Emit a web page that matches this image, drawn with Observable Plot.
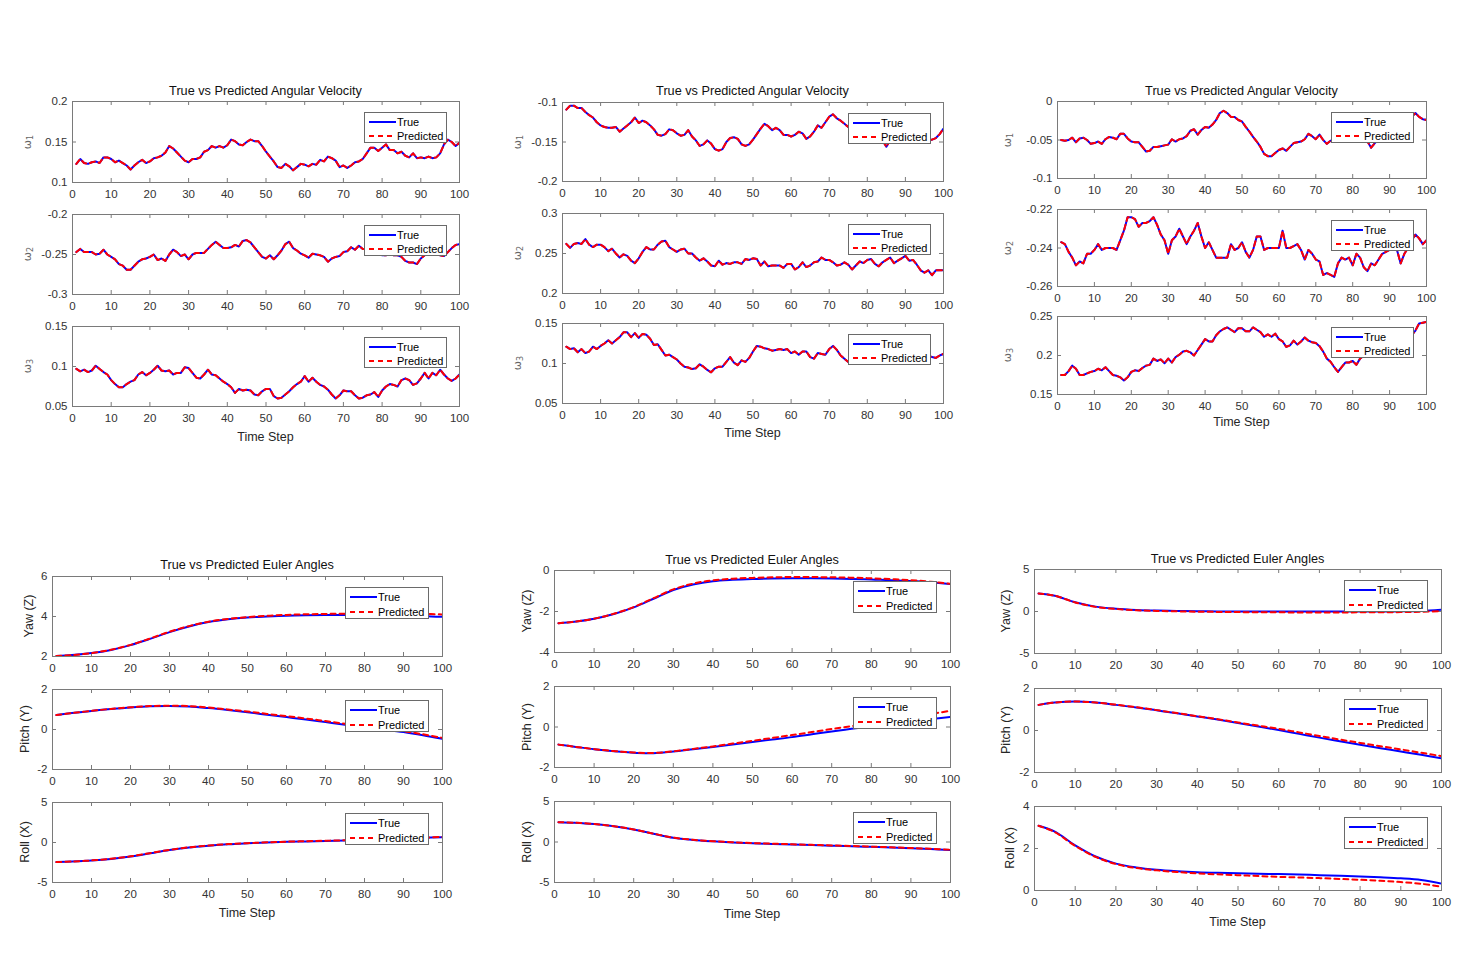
<!DOCTYPE html>
<html><head><meta charset="utf-8">
<script src="https://cdn.jsdelivr.net/npm/d3@7"></script>
<script src="https://cdn.jsdelivr.net/npm/@observablehq/plot@0.6"></script>
<style>
body{margin:0;background:#fff;}
#fig{position:relative;width:1464px;height:976px;overflow:hidden;background:#fff;font-family:"Liberation Sans",Arial,Helvetica,sans-serif;color:#262626;}
.abs{position:absolute;white-space:nowrap;}
.ctr{transform:translate(-50%,-50%);}
.rot{transform:translate(-50%,-50%) rotate(-90deg);}
.leg{position:absolute;box-sizing:border-box;border:1px solid #6a6a6a;background:#fff;font-size:11px;color:#000;}
</style></head><body><div id="fig"></div>
<script>
// ---------- data ----------
const timeSteps = d3.range(1, 101);
const eulerSteps = [1,5,10,15,20,25,30,35,40,45,50,55,60,65,70,75,80,85,90,95,100];
const xTicks = [0,10,20,30,40,50,60,70,80,90,100];

// Run 1 angular velocity (true; predictions coincide)
const run1W1 = [0.123,0.129,0.124,0.123,0.125,0.126,0.124,0.131,0.131,0.129,
 0.125,0.127,0.124,0.121,0.116,0.121,0.125,0.128,0.124,0.126,
 0.130,0.131,0.133,0.137,0.145,0.142,0.137,0.132,0.127,0.125,
 0.129,0.129,0.131,0.138,0.140,0.145,0.143,0.145,0.143,0.146,
 0.153,0.151,0.147,0.146,0.150,0.153,0.151,0.151,0.145,0.138,
 0.132,0.126,0.119,0.118,0.123,0.120,0.115,0.119,0.123,0.122,
 0.120,0.123,0.122,0.128,0.126,0.132,0.130,0.127,0.119,0.121,
 0.118,0.121,0.125,0.126,0.129,0.136,0.143,0.143,0.139,0.143,
 0.147,0.140,0.140,0.136,0.138,0.133,0.131,0.136,0.130,0.131,
 0.130,0.132,0.130,0.131,0.136,0.147,0.153,0.150,0.145,0.149];
const run1W2 = [-0.247,-0.243,-0.247,-0.247,-0.247,-0.250,-0.249,-0.244,-0.250,-0.253,
 -0.256,-0.262,-0.264,-0.269,-0.269,-0.264,-0.259,-0.256,-0.255,-0.253,
 -0.250,-0.257,-0.255,-0.258,-0.250,-0.244,-0.247,-0.252,-0.250,-0.256,
 -0.250,-0.248,-0.248,-0.248,-0.243,-0.238,-0.234,-0.238,-0.242,-0.242,
 -0.241,-0.238,-0.240,-0.233,-0.232,-0.235,-0.241,-0.247,-0.253,-0.255,
 -0.251,-0.256,-0.251,-0.245,-0.237,-0.234,-0.242,-0.245,-0.249,-0.251,
 -0.254,-0.249,-0.250,-0.251,-0.253,-0.259,-0.255,-0.253,-0.252,-0.247,
 -0.246,-0.241,-0.244,-0.239,-0.243,-0.243,-0.241,-0.242,-0.247,-0.251,
 -0.251,-0.249,-0.251,-0.251,-0.253,-0.258,-0.260,-0.260,-0.262,-0.255,
 -0.251,-0.247,-0.247,-0.249,-0.251,-0.252,-0.247,-0.242,-0.238,-0.237];
const run1W3 = [0.097,0.094,0.096,0.093,0.095,0.101,0.097,0.093,0.090,0.083,
 0.078,0.074,0.074,0.078,0.081,0.083,0.090,0.093,0.089,0.092,
 0.096,0.101,0.095,0.094,0.095,0.090,0.092,0.092,0.099,0.098,
 0.092,0.086,0.085,0.090,0.096,0.090,0.089,0.085,0.081,0.078,
 0.074,0.067,0.072,0.070,0.071,0.070,0.065,0.064,0.069,0.072,
 0.072,0.063,0.060,0.061,0.065,0.069,0.074,0.078,0.081,0.088,
 0.081,0.086,0.081,0.077,0.075,0.071,0.065,0.060,0.064,0.070,
 0.069,0.069,0.064,0.060,0.061,0.064,0.065,0.068,0.062,0.070,
 0.075,0.078,0.077,0.075,0.083,0.085,0.083,0.077,0.079,0.085,
 0.092,0.085,0.092,0.089,0.096,0.090,0.085,0.082,0.085,0.090];

// Run 2 angular velocity
const run2W1 = [-0.109,-0.104,-0.104,-0.107,-0.107,-0.112,-0.116,-0.119,-0.125,-0.129,
 -0.131,-0.132,-0.132,-0.131,-0.137,-0.133,-0.129,-0.125,-0.119,-0.126,
 -0.123,-0.125,-0.129,-0.134,-0.141,-0.142,-0.140,-0.134,-0.135,-0.139,
 -0.142,-0.141,-0.135,-0.143,-0.148,-0.155,-0.153,-0.148,-0.152,-0.159,
 -0.161,-0.159,-0.150,-0.145,-0.144,-0.146,-0.153,-0.155,-0.153,-0.147,
 -0.140,-0.133,-0.127,-0.130,-0.135,-0.132,-0.135,-0.141,-0.141,-0.143,
 -0.141,-0.137,-0.139,-0.146,-0.143,-0.137,-0.129,-0.132,-0.125,-0.118,
 -0.115,-0.120,-0.123,-0.127,-0.131,-0.135,-0.133,-0.135,-0.140,-0.142,
 -0.141,-0.145,-0.143,-0.148,-0.156,-0.148,-0.145,-0.146,-0.142,-0.140,
 -0.145,-0.142,-0.138,-0.144,-0.146,-0.147,-0.147,-0.145,-0.140,-0.133];
const run2W2 = [0.262,0.257,0.262,0.263,0.262,0.268,0.261,0.258,0.261,0.261,
 0.258,0.253,0.256,0.250,0.245,0.249,0.247,0.241,0.238,0.244,
 0.252,0.258,0.255,0.255,0.261,0.265,0.266,0.258,0.255,0.252,
 0.255,0.256,0.250,0.250,0.245,0.241,0.244,0.240,0.235,0.234,
 0.241,0.236,0.238,0.237,0.239,0.239,0.237,0.243,0.242,0.244,
 0.243,0.235,0.240,0.234,0.235,0.235,0.235,0.232,0.237,0.237,
 0.230,0.233,0.239,0.233,0.235,0.239,0.240,0.245,0.242,0.242,
 0.239,0.235,0.236,0.239,0.236,0.230,0.235,0.240,0.238,0.242,
 0.243,0.237,0.234,0.239,0.242,0.245,0.238,0.241,0.244,0.247,
 0.241,0.242,0.236,0.229,0.226,0.229,0.223,0.229,0.229,0.229];
const run2W3 = [0.121,0.118,0.119,0.114,0.118,0.113,0.115,0.121,0.118,0.122,
 0.125,0.129,0.125,0.129,0.133,0.139,0.139,0.133,0.138,0.132,
 0.137,0.136,0.131,0.123,0.124,0.117,0.110,0.111,0.108,0.105,
 0.100,0.096,0.095,0.093,0.094,0.099,0.096,0.092,0.089,0.094,
 0.096,0.096,0.102,0.108,0.101,0.098,0.104,0.102,0.107,0.115,
 0.122,0.121,0.119,0.118,0.116,0.117,0.118,0.117,0.118,0.113,
 0.115,0.111,0.115,0.115,0.108,0.106,0.113,0.112,0.111,0.118,
 0.122,0.117,0.110,0.106,0.102,0.100,0.100,0.102,0.104,0.106,
 0.105,0.108,0.110,0.107,0.110,0.112,0.109,0.111,0.113,0.110,
 0.112,0.115,0.113,0.111,0.113,0.110,0.108,0.107,0.110,0.112];

// Run 3 angular velocity
const run3W1 = [-0.050,-0.051,-0.050,-0.047,-0.053,-0.048,-0.047,-0.050,-0.055,-0.054,
 -0.052,-0.055,-0.049,-0.046,-0.047,-0.049,-0.042,-0.042,-0.048,-0.052,
 -0.053,-0.053,-0.059,-0.065,-0.064,-0.059,-0.059,-0.058,-0.057,-0.056,
 -0.049,-0.052,-0.049,-0.048,-0.045,-0.038,-0.036,-0.043,-0.037,-0.033,
 -0.034,-0.030,-0.024,-0.015,-0.012,-0.015,-0.020,-0.020,-0.024,-0.026,
 -0.033,-0.039,-0.046,-0.052,-0.059,-0.068,-0.071,-0.071,-0.067,-0.063,
 -0.061,-0.064,-0.059,-0.054,-0.053,-0.052,-0.049,-0.042,-0.045,-0.049,
 -0.043,-0.050,-0.055,-0.051,-0.050,-0.050,-0.046,-0.048,-0.047,-0.049,
 -0.046,-0.045,-0.048,-0.052,-0.060,-0.054,-0.050,-0.048,-0.046,-0.041,
 -0.043,-0.037,-0.033,-0.030,-0.026,-0.020,-0.015,-0.020,-0.023,-0.024];
const run3W2 = [-0.237,-0.238,-0.242,-0.245,-0.249,-0.247,-0.248,-0.243,-0.243,-0.241,
 -0.238,-0.241,-0.240,-0.240,-0.240,-0.241,-0.236,-0.231,-0.224,-0.224,
 -0.225,-0.229,-0.227,-0.227,-0.226,-0.224,-0.228,-0.233,-0.236,-0.243,
 -0.236,-0.234,-0.230,-0.234,-0.238,-0.234,-0.231,-0.227,-0.234,-0.240,
 -0.237,-0.241,-0.245,-0.245,-0.245,-0.245,-0.238,-0.241,-0.240,-0.237,
 -0.242,-0.245,-0.241,-0.234,-0.234,-0.241,-0.240,-0.240,-0.240,-0.240,
 -0.231,-0.240,-0.240,-0.239,-0.238,-0.241,-0.246,-0.241,-0.243,-0.246,
 -0.247,-0.254,-0.253,-0.254,-0.255,-0.248,-0.245,-0.246,-0.245,-0.249,
 -0.243,-0.245,-0.250,-0.252,-0.248,-0.249,-0.246,-0.243,-0.242,-0.241,
 -0.240,-0.241,-0.248,-0.243,-0.240,-0.236,-0.233,-0.235,-0.238,-0.236];
const run3W3 = [0.175,0.175,0.180,0.187,0.183,0.175,0.175,0.177,0.179,0.180,
 0.183,0.181,0.185,0.180,0.175,0.174,0.172,0.168,0.172,0.179,
 0.181,0.180,0.184,0.187,0.188,0.196,0.193,0.195,0.190,0.196,
 0.191,0.198,0.201,0.205,0.206,0.204,0.200,0.207,0.214,0.221,
 0.218,0.218,0.226,0.231,0.234,0.236,0.233,0.230,0.235,0.235,
 0.231,0.231,0.236,0.233,0.230,0.224,0.227,0.224,0.228,0.221,
 0.218,0.211,0.213,0.219,0.214,0.218,0.223,0.219,0.217,0.216,
 0.212,0.205,0.196,0.192,0.185,0.179,0.185,0.191,0.191,0.193,
 0.188,0.196,0.200,0.205,0.208,0.206,0.210,0.214,0.212,0.216,
 0.219,0.217,0.221,0.224,0.222,0.226,0.232,0.241,0.242,0.243];

// Euler angles (sampled at eulerSteps)
const run1YawTrue   = [2.02,2.07,2.17,2.33,2.57,2.88,3.22,3.50,3.72,3.86,3.95,4.00,4.04,4.06,4.07,4.07,4.07,4.06,4.05,4.03,3.98];
const run1YawPred   = [2.02,2.07,2.17,2.34,2.58,2.90,3.24,3.52,3.74,3.88,3.97,4.03,4.08,4.11,4.13,4.14,4.15,4.15,4.14,4.13,4.10];
const run1PitchTrue = [0.72,0.82,0.93,1.02,1.10,1.16,1.18,1.15,1.07,0.97,0.86,0.74,0.62,0.50,0.37,0.24,0.12,0.00,-0.13,-0.29,-0.47];
const run1PitchPred = [0.72,0.82,0.93,1.03,1.11,1.17,1.19,1.17,1.10,1.00,0.90,0.78,0.67,0.55,0.42,0.29,0.17,0.05,-0.08,-0.24,-0.42];
const run1RollTrue  = [-2.45,-2.38,-2.25,-2.05,-1.75,-1.35,-0.95,-0.62,-0.40,-0.22,-0.10,0.00,0.08,0.14,0.20,0.26,0.32,0.40,0.48,0.57,0.67];
const run1RollPred  = [-2.45,-2.38,-2.24,-2.03,-1.73,-1.33,-0.93,-0.60,-0.38,-0.20,-0.08,0.02,0.10,0.16,0.22,0.28,0.35,0.43,0.51,0.60,0.70];

const run2YawTrue   = [-2.57,-2.50,-2.35,-2.12,-1.80,-1.38,-0.95,-0.68,-0.52,-0.45,-0.41,-0.39,-0.38,-0.38,-0.39,-0.41,-0.44,-0.47,-0.51,-0.57,-0.66];
const run2YawPred   = [-2.57,-2.50,-2.35,-2.11,-1.78,-1.35,-0.92,-0.64,-0.48,-0.40,-0.36,-0.33,-0.32,-0.32,-0.33,-0.35,-0.38,-0.42,-0.47,-0.55,-0.65];
const run2PitchTrue = [-0.87,-0.97,-1.10,-1.20,-1.27,-1.30,-1.21,-1.10,-0.99,-0.87,-0.74,-0.62,-0.50,-0.36,-0.22,-0.09,0.04,0.16,0.27,0.39,0.50];
const run2PitchPred = [-0.87,-0.97,-1.09,-1.19,-1.26,-1.28,-1.20,-1.08,-0.96,-0.82,-0.68,-0.54,-0.40,-0.25,-0.10,0.04,0.18,0.33,0.48,0.64,0.80];
const run2RollTrue  = [2.45,2.38,2.22,1.95,1.55,1.02,0.52,0.25,0.08,-0.05,-0.15,-0.24,-0.32,-0.38,-0.45,-0.52,-0.60,-0.68,-0.77,-0.87,-0.98];
const run2RollPred  = [2.45,2.38,2.22,1.95,1.55,1.03,0.54,0.27,0.10,-0.03,-0.13,-0.21,-0.28,-0.35,-0.42,-0.49,-0.57,-0.65,-0.74,-0.84,-0.95];

const run3YawTrue   = [2.15,1.88,1.10,0.58,0.33,0.19,0.11,0.06,0.03,0.01,0.00,-0.01,-0.01,-0.01,-0.01,-0.01,-0.01,0.00,0.02,0.06,0.22];
const run3YawPred   = [2.15,1.88,1.08,0.55,0.30,0.15,0.07,0.02,-0.02,-0.05,-0.07,-0.09,-0.10,-0.11,-0.11,-0.11,-0.10,-0.09,-0.07,-0.03,0.05];
const run3PitchTrue = [1.22,1.33,1.38,1.33,1.22,1.10,0.96,0.82,0.67,0.52,0.36,0.19,0.02,-0.16,-0.34,-0.51,-0.68,-0.84,-1.00,-1.16,-1.33];
const run3PitchPred = [1.22,1.33,1.38,1.33,1.23,1.11,0.97,0.83,0.68,0.54,0.38,0.23,0.08,-0.09,-0.26,-0.43,-0.59,-0.75,-0.90,-1.06,-1.22];
const run3RollTrue  = [3.08,2.80,2.15,1.62,1.28,1.10,0.99,0.92,0.87,0.84,0.82,0.80,0.78,0.76,0.73,0.70,0.67,0.63,0.58,0.50,0.33];
const run3RollPred  = [3.08,2.78,2.12,1.60,1.26,1.07,0.96,0.88,0.82,0.77,0.73,0.69,0.65,0.62,0.59,0.55,0.51,0.46,0.40,0.32,0.18];

// Y tick values
const ticksR1W = [[0.1,0.15,0.2],[-0.3,-0.25,-0.2],[0.05,0.1,0.15]];
const ticksR2W = [[-0.2,-0.15,-0.1],[0.2,0.25,0.3],[0.05,0.1,0.15]];
const ticksR3W = [[-0.1,-0.05,0],[-0.26,-0.24,-0.22],[0.15,0.2,0.25]];
const ticksR1E = [[2,4,6],[-2,0,2],[-5,0,5]];
const ticksR2E = [[-4,-2,0],[-2,0,2],[-5,0,5]];
const ticksR3E = [[-5,0,5],[-2,0,2],[0,2,4]];

const angTitle = "True vs Predicted Angular Velocity";
const eulTitle = "True vs Predicted Euler Angles";
const eulLabels = ["Yaw (Z)", "Pitch (Y)", "Roll (X)"];
const seriesNames = ["True", "Predicted"];

// ---------- layout ----------
const groups = [
  {title: angTitle, titleY: 91, xlabY: 437, x0: 72, x1: 459, steps: timeSteps, curve: "linear", angular: true,
   panels: [
     {y0: 101, y1: 182, t: run1W1, p: run1W1, ticks: ticksR1W[0], lab: "1", labX: 28},
     {y0: 214, y1: 294, t: run1W2, p: run1W2, ticks: ticksR1W[1], lab: "2", labX: 28},
     {y0: 326, y1: 406, t: run1W3, p: run1W3, ticks: ticksR1W[2], lab: "3", labX: 28}]},
  {title: angTitle, titleY: 91, xlabY: 433, x0: 562, x1: 943, steps: timeSteps, curve: "linear", angular: true,
   panels: [
     {y0: 102, y1: 181, t: run2W1, p: run2W1, ticks: ticksR2W[0], lab: "1", labX: 518},
     {y0: 213, y1: 293, t: run2W2, p: run2W2, ticks: ticksR2W[1], lab: "2", labX: 518},
     {y0: 323, y1: 403, t: run2W3, p: run2W3, ticks: ticksR2W[2], lab: "3", labX: 518}]},
  {title: angTitle, titleY: 91, xlabY: 422, x0: 1057, x1: 1426, steps: timeSteps, curve: "linear", angular: true,
   panels: [
     {y0: 101, y1: 178, t: run3W1, p: run3W1, ticks: ticksR3W[0], lab: "1", labX: 1008},
     {y0: 209, y1: 286, t: run3W2, p: run3W2, ticks: ticksR3W[1], lab: "2", labX: 1008},
     {y0: 316, y1: 394, t: run3W3, p: run3W3, ticks: ticksR3W[2], lab: "3", labX: 1008}]},
  {title: eulTitle, titleY: 565, xlabY: 913, x0: 52, x1: 442, steps: eulerSteps, curve: "catmull-rom", angular: false,
   panels: [
     {y0: 576, y1: 656, t: run1YawTrue, p: run1YawPred, ticks: ticksR1E[0], lab: eulLabels[0], labX: 29},
     {y0: 689, y1: 769, t: run1PitchTrue, p: run1PitchPred, ticks: ticksR1E[1], lab: eulLabels[1], labX: 25},
     {y0: 802, y1: 882, t: run1RollTrue, p: run1RollPred, ticks: ticksR1E[2], lab: eulLabels[2], labX: 25}]},
  {title: eulTitle, titleY: 560, xlabY: 914, x0: 554, x1: 950, steps: eulerSteps, curve: "catmull-rom", angular: false,
   panels: [
     {y0: 570, y1: 652, t: run2YawTrue, p: run2YawPred, ticks: ticksR2E[0], lab: eulLabels[0], labX: 527},
     {y0: 686, y1: 767, t: run2PitchTrue, p: run2PitchPred, ticks: ticksR2E[1], lab: eulLabels[1], labX: 527},
     {y0: 801, y1: 882, t: run2RollTrue, p: run2RollPred, ticks: ticksR2E[2], lab: eulLabels[2], labX: 527}]},
  {title: eulTitle, titleY: 559, xlabY: 922, x0: 1034, x1: 1441, steps: eulerSteps, curve: "catmull-rom", angular: false,
   panels: [
     {y0: 569, y1: 653, t: run3YawTrue, p: run3YawPred, ticks: ticksR3E[0], lab: eulLabels[0], labX: 1005.5},
     {y0: 688, y1: 772, t: run3PitchTrue, p: run3PitchPred, ticks: ticksR3E[1], lab: eulLabels[1], labX: 1005.5},
     {y0: 806, y1: 890, t: run3RollTrue, p: run3RollPred, ticks: ticksR3E[2], lab: eulLabels[2], labX: 1010}]}
];

const fig = document.getElementById("fig");
const AXC = "#7a7a7a";
const fmt = d => String(+d.toFixed(4));

function addText(html, x, y, cls, style) {
  const d = document.createElement("div");
  d.className = "abs " + cls;
  d.style.left = x + "px"; d.style.top = y + "px";
  Object.assign(d.style, style || {});
  d.innerHTML = html;
  fig.appendChild(d);
}

function addLegend(right, top, w, h, r1, r2) {
  const L = document.createElement("div");
  L.className = "leg";
  L.style.left = (right - w) + "px"; L.style.top = top + "px";
  L.style.width = w + "px"; L.style.height = h + "px";
  const rows = [[r1, "solid"], [r2, "dashed"]];
  rows.forEach(([ry, kind], i) => {
    const s = document.createElementNS("http://www.w3.org/2000/svg", "svg");
    s.setAttribute("width", 30); s.setAttribute("height", 6);
    s.style.position = "absolute"; s.style.left = "3px"; s.style.top = (ry - 3.5) + "px";
    const ln = document.createElementNS("http://www.w3.org/2000/svg", "line");
    ln.setAttribute("x1", 1); ln.setAttribute("x2", 28); ln.setAttribute("y1", 3); ln.setAttribute("y2", 3);
    ln.setAttribute("stroke", i === 0 ? "#0000ff" : "#ff0000");
    ln.setAttribute("stroke-width", 2);
    if (kind === "dashed") ln.setAttribute("stroke-dasharray", "5,4");
    s.appendChild(ln); L.appendChild(s);
    const t = document.createElement("div");
    t.style.position = "absolute"; t.style.left = "32px"; t.style.top = (ry - 7) + "px";
    t.style.lineHeight = "13px";
    t.textContent = seriesNames[i];
    L.appendChild(t);
  });
  fig.appendChild(L);
}

for (const g of groups) {
  const fw = g.x1 - g.x0;
  for (const p of g.panels) {
    const fh = p.y1 - p.y0;
    const ml = 50, mr = 12, mt = 6, mb = 26;
    const T = g.steps.map((s, i) => ({step: s, value: p.t[i]}));
    const P = g.steps.map((s, i) => ({step: s, value: p.p[i]}));
    const tl = 4;
    const chart = Plot.plot({
      width: fw + ml + mr, height: fh + mt + mb,
      marginLeft: ml, marginRight: mr, marginTop: mt, marginBottom: mb,
      x: {domain: [0, 100], label: null},
      y: {domain: [p.ticks[0], p.ticks[2]], label: null},
      style: {fontFamily: "'Liberation Sans', Arial, sans-serif", fontSize: "11.5px", color: "#333", background: "transparent", overflow: "visible"},
      marks: [
        Plot.axisX(xTicks, {tickSize: 0, tickPadding: 7, tickFormat: fmt, label: null, fontSize: 11.5}),
        Plot.axisY(p.ticks, {tickSize: 0, tickPadding: 5, tickFormat: fmt, label: null, fontSize: 11.5}),
        Plot.tickX(xTicks, {x: d => d, insetTop: fh - tl, stroke: AXC}),
        Plot.tickX(xTicks, {x: d => d, insetBottom: fh - tl, stroke: AXC}),
        Plot.tickY(p.ticks, {y: d => d, insetRight: fw - tl, stroke: AXC}),
        Plot.tickY(p.ticks, {y: d => d, insetLeft: fw - tl, stroke: AXC}),
        Plot.line(T, {x: "step", y: "value", stroke: "#0000ff", strokeWidth: 2, curve: g.curve, clip: true}),
        Plot.line(P, {x: "step", y: "value", stroke: "#ff0000", strokeWidth: 2, strokeDasharray: "5,4", curve: g.curve, clip: true}),
        Plot.frame({stroke: AXC, strokeWidth: 1})
      ]
    });
    const wrap = document.createElement("div");
    wrap.className = "abs";
    wrap.style.left = (g.x0 - ml) + "px"; wrap.style.top = (p.y0 - mt) + "px";
    wrap.appendChild(chart);
    fig.appendChild(wrap);

    // y label
    const cy = (p.y0 + p.y1) / 2;
    if (g.angular) {
      addText(`ω<sub style="font-size:8px;vertical-align:-2px">${p.lab}</sub>`, p.labX, cy, "rot",
        {fontSize: "11px", color: "#666", fontFamily: "'DejaVu Sans', 'Liberation Sans', sans-serif"});
      addLegend(g.x1 - 12, p.y0 + 11, 83, 31, 9.5, 23.5);
    } else {
      addText(p.lab, p.labX, cy, "rot", {fontSize: "12.5px", color: "#262626"});
      addLegend(g.x1 - 13, p.y0 + 11, 84, 32, 9.7, 24.5);
    }
  }
  const cx = (g.x0 + g.x1) / 2;
  addText(g.title, cx, g.titleY, "ctr", {fontSize: "12.7px", color: "#111"});
  addText("Time Step", cx, g.xlabY, "ctr", {fontSize: "12.5px", color: "#262626"});
}
</script></body></html>
